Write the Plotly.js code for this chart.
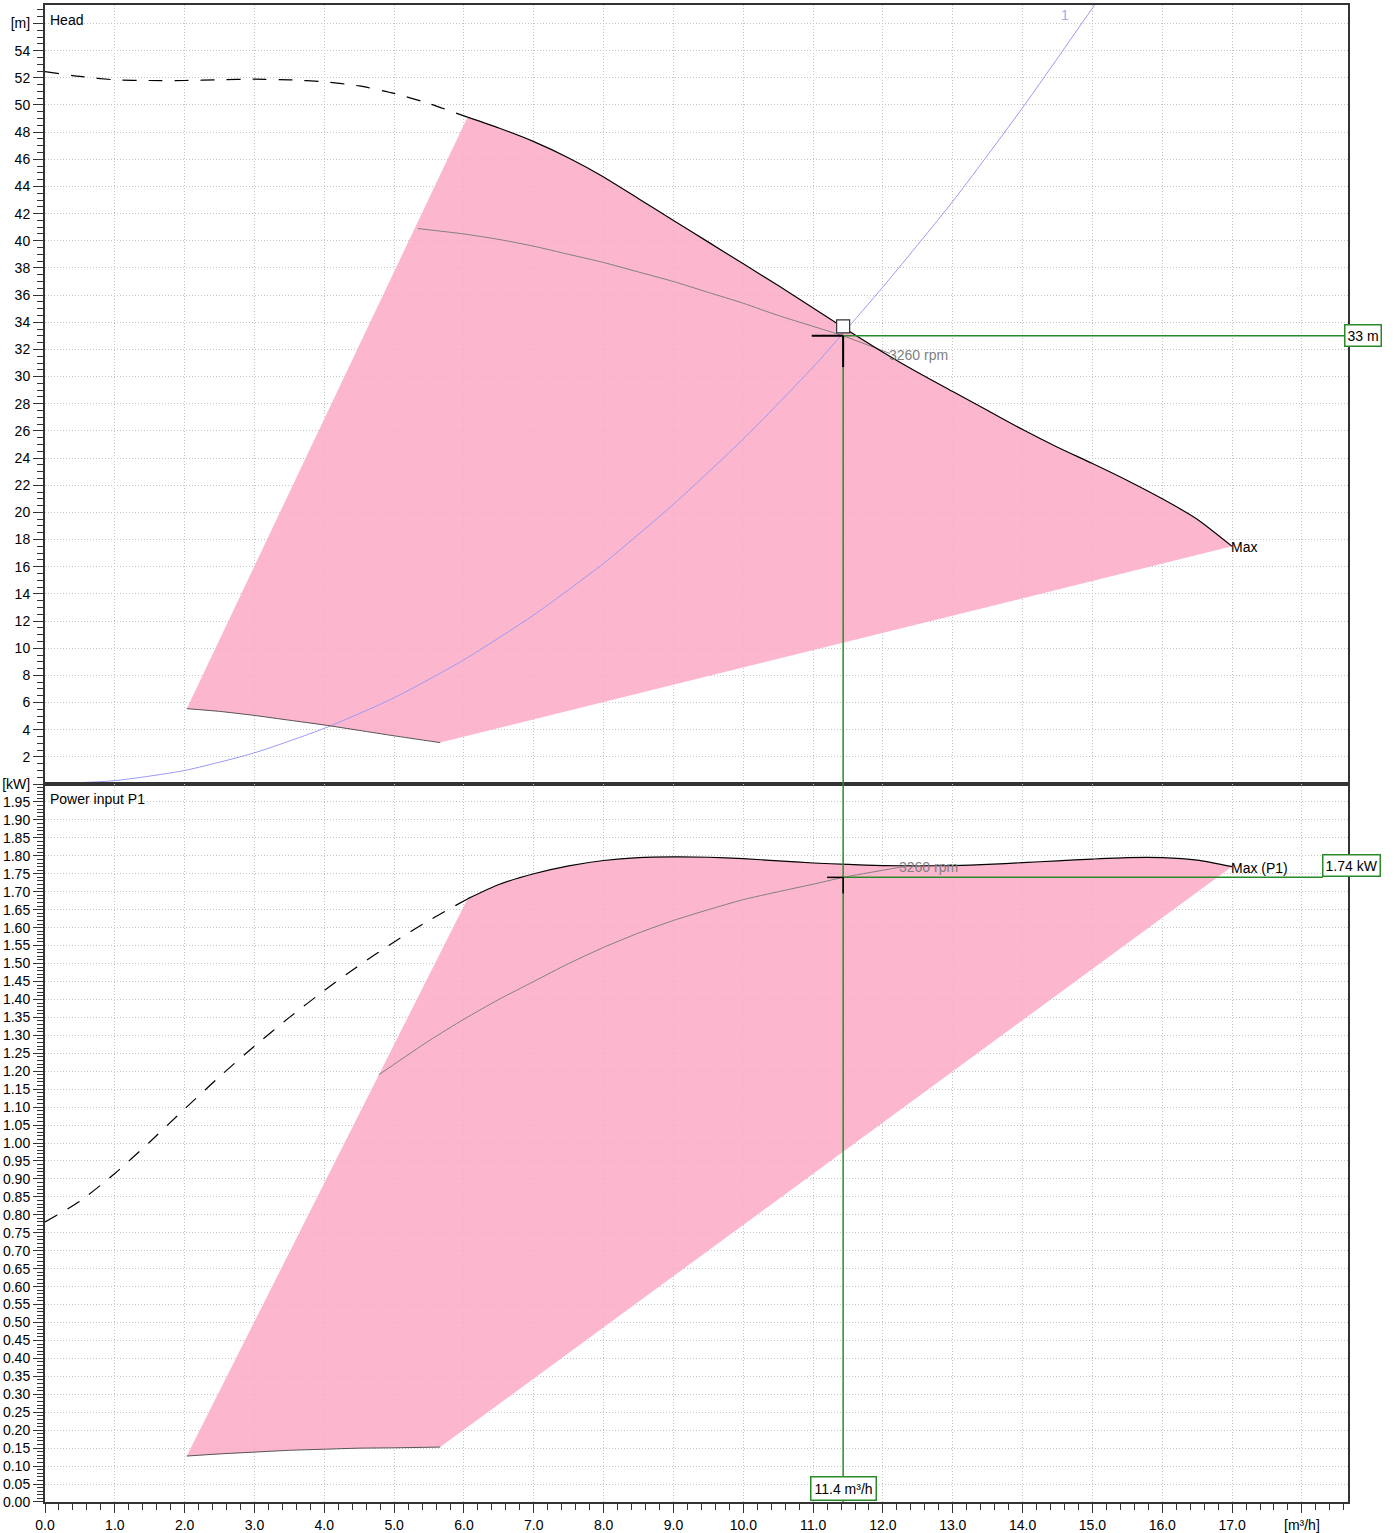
<!DOCTYPE html>
<html>
<head>
<meta charset="utf-8">
<script src="https://cdn.plot.ly/plotly-3.0.1.min.js"></script>
<style>
  body { margin: 0; background: #fff; }
  #chart { width: 1397px; height: 1533px; }
</style>
</head>
<body>
<div id="chart"></div>
<script>
// ---- data ----
// head, dashed part (outside allowed range)
var headDashQ = [0, 0.5, 1, 1.5, 2, 2.5, 3, 3.5, 4, 4.5, 5, 5.5, 6.05];
var headDashH = [52.45, 52.1, 51.85, 51.8, 51.8, 51.85, 51.9, 51.85, 51.7, 51.4, 50.85, 50.1, 49.1];
// head, max speed
var headMaxQ = [6.05, 6.5, 7, 7.5, 8, 8.5, 9, 9.5, 10, 10.5, 11, 11.5, 12, 12.5, 13, 13.5, 14, 14.5, 15, 15.5, 16, 16.5, 17];
var headMaxH = [49.1, 48.3, 47.3, 46.1, 44.7, 43.1, 41.5, 39.9, 38.3, 36.7, 35.05, 33.4, 31.8, 30.3, 28.9, 27.5, 26.1, 24.8, 23.6, 22.35, 21.0, 19.5, 17.5];
// head, min speed
var headMinQ = [2.03, 2.5, 3, 3.5, 4, 4.5, 5, 5.66];
var headMinH = [5.55, 5.35, 5.05, 4.7, 4.35, 3.95, 3.55, 3.05];
// head at 3260 rpm
var head3260Q = [5.34, 6, 6.5, 7, 7.5, 8, 8.5, 9, 9.5, 10, 10.5, 11, 11.43, 12.1];
var head3260H = [40.9, 40.5, 40.1, 39.6, 39.0, 38.4, 37.7, 37.0, 36.2, 35.4, 34.5, 33.7, 33.0, 31.7];
// system curve "1"
var sysQ = [0, 1, 2, 3, 4, 5, 6, 7, 8, 9, 10, 11, 11.43, 12, 13, 14, 15.05];
var sysH = [0, 0.25, 1.0, 2.3, 4.1, 6.35, 9.15, 12.45, 16.25, 20.6, 25.4, 30.7, 33.2, 36.6, 42.9, 49.8, 57.5];

// power input P1
var powDashQ = [0, 0.5, 1, 1.5, 2, 2.5, 3, 3.5, 4, 4.5, 5, 5.5, 6.05];
var powDashP = [0.78, 0.838, 0.915, 1.003, 1.095, 1.185, 1.27, 1.35, 1.425, 1.495, 1.56, 1.62, 1.68];
var powMaxQ = [6.05, 6.5, 7, 7.5, 8, 8.5, 9, 9.5, 10, 10.5, 11, 11.5, 12, 12.5, 13, 13.5, 14, 14.5, 15, 15.5, 16, 16.5, 17];
var powMaxP = [1.68, 1.72, 1.75, 1.772, 1.787, 1.795, 1.797, 1.796, 1.792, 1.786, 1.78, 1.776, 1.773, 1.772, 1.773, 1.776, 1.781, 1.786, 1.791, 1.795, 1.795, 1.788, 1.77];
var powMinQ = [2.03, 2.5, 3, 3.5, 4, 4.5, 5, 5.66];
var powMinP = [0.128, 0.134, 0.139, 0.144, 0.147, 0.15, 0.151, 0.153];
var pow3260Q = [4.78, 5.5, 6, 6.5, 7, 7.5, 8, 8.5, 9, 9.5, 10, 10.5, 11, 11.43, 12.3];
var pow3260P = [1.19, 1.285, 1.345, 1.40, 1.45, 1.50, 1.545, 1.585, 1.62, 1.65, 1.678, 1.70, 1.721, 1.74, 1.77];

// duty point
var dutyQ = 11.43, dutyH = 33, dutyP = 1.74;
var opPointQ = [11.43], opPointH = [33.7];

// axis ranges and tick labels
var xRange = [0, 18.66];
var headRange = [0, 57.36];
var powRange = [0, 2.0];
var xTickVals = [], xTickText = [];
for (var i = 0; i <= 18; i++) { xTickVals.push(i); xTickText.push(i < 18 ? i.toFixed(1) : '[m³/h]'); }
var headTickVals = [], headTickText = [];
for (var h = 0; h <= 56; h += 2) { headTickVals.push(h); headTickText.push(h === 0 ? '' : (h === 56 ? '[m]' : String(h))); }
var powTickVals = [], powTickText = [];
for (var k = 0; k <= 40; k++) { var v = +(k * 0.05).toFixed(2); powTickVals.push(v); powTickText.push(k === 40 ? '[kW]' : v.toFixed(2)); }

var pink = 'rgba(251,172,199,0.87)';
var green = '#2a8a2a';
var font = 'Liberation Sans, Arial, sans-serif';

function line(x, y, xa, ya, color, width, dash) {
  return {x: x, y: y, xaxis: xa, yaxis: ya, mode: 'lines', hoverinfo: 'skip',
    line: {color: color, width: width, dash: dash || 'solid', shape: 'spline', smoothing: 0.6}};
}
function area(maxQ, maxV, minQ, minV, xa, ya) {
  return {x: maxQ.concat(minQ.slice().reverse()), y: maxV.concat(minV.slice().reverse()),
    xaxis: xa, yaxis: ya, mode: 'lines', fill: 'toself', fillcolor: pink,
    line: {width: 0, color: pink}, hoverinfo: 'skip'};
}

var data = [
  area(headMaxQ, headMaxH, headMinQ, headMinH, 'x', 'y'),
  area(powMaxQ, powMaxP, powMinQ, powMinP, 'x2', 'y2'),
  line(sysQ, sysH, 'x', 'y', '#9a9af5', 1),
  line(headMinQ, headMinH, 'x', 'y', '#555', 1),
  line(head3260Q, head3260H, 'x', 'y', '#808080', 1),
  line(headDashQ, headDashH, 'x', 'y', '#000', 1.2, '14px,12px'),
  line(headMaxQ, headMaxH, 'x', 'y', '#000', 1.2),
  line(powMinQ, powMinP, 'x2', 'y2', '#555', 1),
  line(pow3260Q, pow3260P, 'x2', 'y2', '#808080', 1),
  line(powDashQ, powDashP, 'x2', 'y2', '#000', 1.2, '14px,12px'),
  line(powMaxQ, powMaxP, 'x2', 'y2', '#000', 1.2),
  {x: opPointQ, y: opPointH, xaxis: 'x', yaxis: 'y', mode: 'markers', hoverinfo: 'skip',
    marker: {symbol: 'square', size: 13, color: '#fff', line: {color: '#333', width: 1.2}}}
];

var gridStyle = {showgrid: true, gridcolor: '#c4c4c4', gridwidth: 1, griddash: '1px,2px',
  zeroline: false, showline: true, mirror: true, linecolor: '#333', linewidth: 2};
var tickFont = {family: font, size: 14, color: '#000'};

var layout = {
  width: 1397, height: 1533,
  margin: {l: 45, r: 49, t: 5, b: 31},
  paper_bgcolor: '#fff', plot_bgcolor: '#fff',
  showlegend: false,
  font: {family: font, size: 14, color: '#000'},
  xaxis: Object.assign({}, gridStyle, {domain: [0, 1], anchor: 'y', range: xRange,
    tickmode: 'array', tickvals: xTickVals, showticklabels: false, ticks: ''}),
  xaxis2: Object.assign({}, gridStyle, {domain: [0, 1], anchor: 'y2', range: xRange,
    tickmode: 'array', tickvals: xTickVals, ticktext: xTickText, tickfont: tickFont,
    ticks: 'outside', ticklen: 9, tickcolor: '#333', tickwidth: 1,
    minor: {tickmode: 'linear', tick0: 0, dtick: 0.2, ticks: 'outside', ticklen: 6, tickcolor: '#333', showgrid: false}}),
  yaxis: Object.assign({}, gridStyle, {domain: [0.4796, 1], anchor: 'x', range: headRange,
    tickmode: 'array', tickvals: headTickVals, ticktext: headTickText, tickfont: tickFont,
    ticks: 'outside', ticklen: 10, tickcolor: '#333', tickwidth: 1,
    minor: {tickmode: 'linear', tick0: 0, dtick: 0.5, ticks: 'outside', ticklen: 6, tickcolor: '#333', showgrid: false}}),
  yaxis2: Object.assign({}, gridStyle, {domain: [0, 0.4796], anchor: 'x2', range: powRange,
    tickmode: 'array', tickvals: powTickVals, ticktext: powTickText, tickfont: tickFont,
    ticks: 'outside', ticklen: 10, tickcolor: '#333', tickwidth: 1,
    minor: {tickmode: 'linear', tick0: 0, dtick: 0.01, ticks: 'outside', ticklen: 6, tickcolor: '#333', showgrid: false}}),
  shapes: [
    // duty point guide lines
    {type: 'line', xref: 'x', yref: 'y', x0: dutyQ, x1: dutyQ, y0: 0, y1: dutyH, line: {color: green, width: 1.5}},
    {type: 'line', xref: 'x', yref: 'y', x0: dutyQ, x1: xRange[1], y0: dutyH, y1: dutyH, line: {color: green, width: 1.5}},
    {type: 'line', xref: 'x2', yref: 'y2', x0: dutyQ, x1: dutyQ, y0: 0, y1: powRange[1], line: {color: green, width: 1.5}},
    {type: 'line', xref: 'x2', yref: 'y2', x0: dutyQ, x1: 18.3, y0: dutyP, y1: dutyP, line: {color: green, width: 1.5}},
    // black cross at the duty point
    {type: 'line', xref: 'x', yref: 'y', x0: dutyQ - 0.45, x1: dutyQ, y0: dutyH, y1: dutyH, line: {color: '#000', width: 2}},
    {type: 'line', xref: 'x', yref: 'y', x0: dutyQ, x1: dutyQ, y0: dutyH, y1: dutyH - 2.3, line: {color: '#000', width: 2}},
    {type: 'line', xref: 'x2', yref: 'y2', x0: dutyQ - 0.23, x1: dutyQ, y0: dutyP, y1: dutyP, line: {color: '#000', width: 1.5}},
    {type: 'line', xref: 'x2', yref: 'y2', x0: dutyQ, x1: dutyQ, y0: dutyP, y1: dutyP - 0.045, line: {color: '#000', width: 1.5}}
  ],
  annotations: [
    {xref: 'paper', yref: 'paper', x: 0, y: 1, xanchor: 'left', yanchor: 'top', xshift: 3, yshift: -5,
      text: 'Head', showarrow: false, font: {family: font, size: 14}},
    {xref: 'paper', yref: 'paper', x: 0, y: 0.4796, xanchor: 'left', yanchor: 'top', xshift: 3, yshift: -5,
      text: 'Power input P1', showarrow: false, font: {family: font, size: 14}},
    {xref: 'x', yref: 'y', x: 14.6, y: 56.6, text: '1', showarrow: false, font: {family: font, size: 14, color: '#a8a8f0'}},
    {xref: 'x', yref: 'y', x: 17.0, y: 17.45, xanchor: 'left', xshift: -3, text: 'Max', showarrow: false, font: {family: font, size: 14}},
    {xref: 'x', yref: 'y', x: 12.1, y: 31.6, xanchor: 'left', xshift: -3, text: '3260 rpm', showarrow: false, font: {family: font, size: 14, color: '#808080'}},
    {xref: 'x2', yref: 'y2', x: 12.24, y: 1.768, xanchor: 'left', xshift: -3, text: '3260 rpm', showarrow: false, font: {family: font, size: 14, color: '#808080'}},
    {xref: 'x2', yref: 'y2', x: 17.0, y: 1.765, xanchor: 'left', xshift: -3, text: 'Max (P1)', showarrow: false, font: {family: font, size: 14}},
    {xref: 'paper', yref: 'y', x: 1, y: dutyH, xanchor: 'right', xshift: 34, text: '33 m', showarrow: false,
      bgcolor: '#fff', bordercolor: green, borderwidth: 1.5, borderpad: 2, font: {family: font, size: 14}},
    {xref: 'paper', yref: 'y2', x: 1, y: dutyP, xanchor: 'right', yanchor: 'bottom', xshift: 33, text: '1.74 kW', showarrow: false,
      bgcolor: '#fff', bordercolor: green, borderwidth: 1.5, borderpad: 2, font: {family: font, size: 14}},
    {xref: 'x2', yref: 'y2', x: dutyQ, y: 0, xanchor: 'center', yanchor: 'bottom', yshift: 1, text: '11.4 m³/h', showarrow: false,
      bgcolor: '#fff', bordercolor: green, borderwidth: 1.5, borderpad: 3, font: {family: font, size: 14}}
  ]
};

Plotly.newPlot(document.getElementById('chart'), data, layout, {staticPlot: true});
</script>
</body>
</html>
